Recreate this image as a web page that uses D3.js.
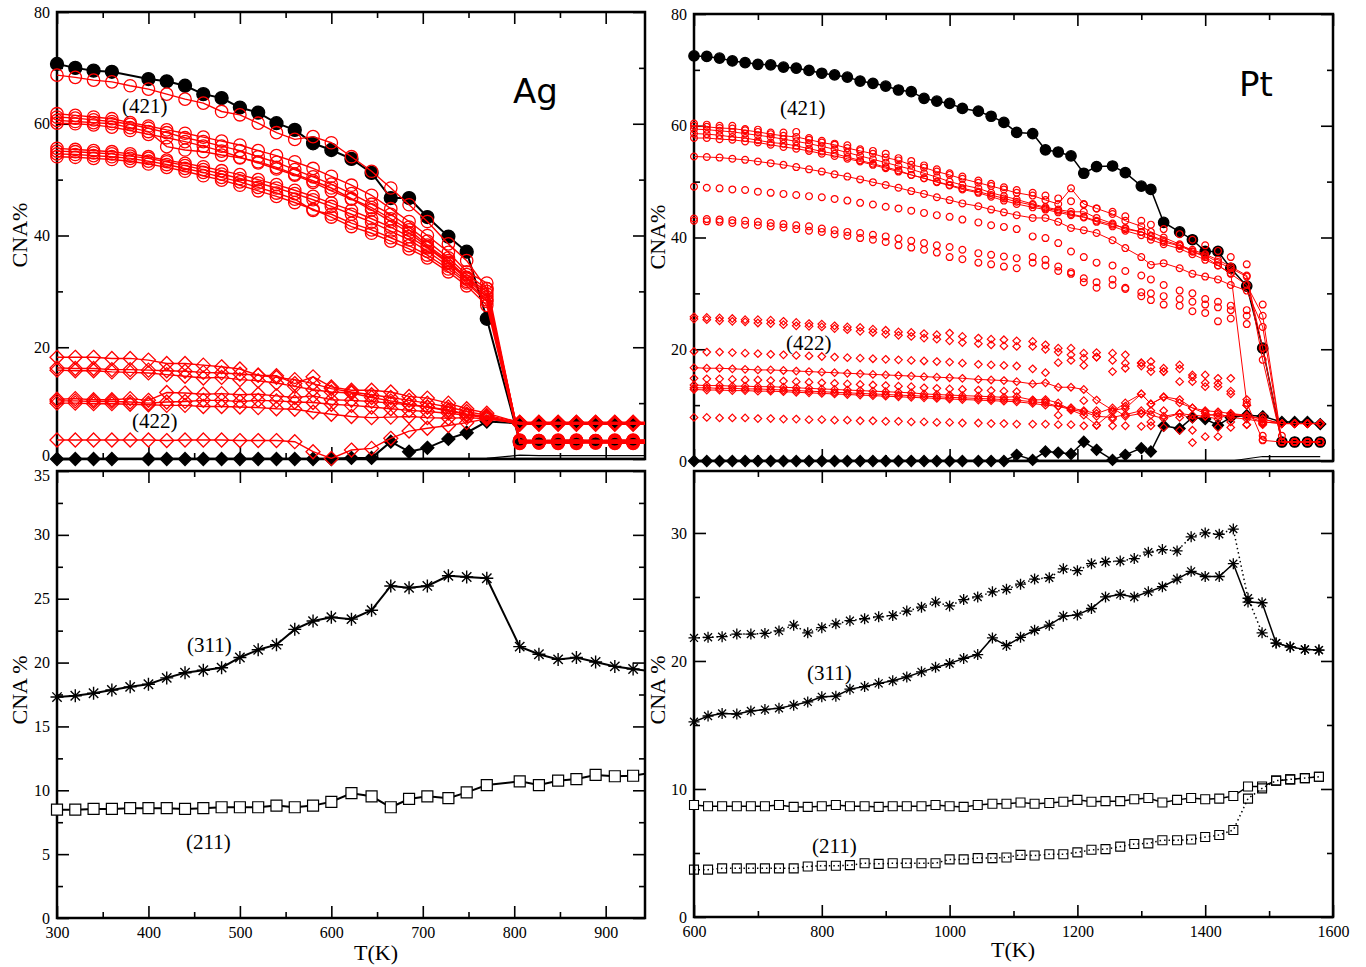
<!DOCTYPE html>
<html>
<head>
<meta charset="utf-8">
<script src="https://cdn.jsdelivr.net/npm/d3@7"></script>
<style>
  body { margin: 0; background: #fff; }
</style>
</head>
<body>
<div id="chart"></div>
<script>
// ---------------- Ag (left panels) ----------------
var T_AG = [300,320,340,360,380,400,420,440,460,480,500,520,540,560,580,600,622,644,665,685,705,728,748,770,806,827,848,868,889,910,930,952];

// (421) and (422), black = whole cluster
var AG_421_BLACK = [70.7,70.0,69.5,69.3,null,68.0,67.6,66.8,65.3,64.6,62.9,62.0,60.1,58.9,56.5,55.3,53.7,51.2,46.7,46.7,43.3,39.8,37.1,25.1,3.1,3.1,3.1,3.1,3.1,3.1,3.1,3.1];
var AG_422_BLACK = [0,0,0,0,null,0,0,0,0,0,0,0,0,0,0,0,0.2,0.2,3.1,1.3,2.0,3.6,4.7,6.7,6.4,6.4,6.4,6.4,6.4,6.4,6.4,6.4];

// (421) red = individual shells
var AG_421_R1 = [68.7,68.3,67.8,67.5,66.8,66.2,65.3,64.4,63.7,62.2,61.6,60.1,58.4,57.2,57.7,56.6,54.1,51.5,48.5,45.5,42.5,38.5,35.5,30.5,3.3,3.3,3.2,3.3,3.3,3.2,3.3,3.3];
var AG_421_B1 = [61.8,61.5,61.2,60.9,60.2,59.6,58.9,58.3,57.6,56.9,56.2,55.2,54.3,53.2,52.0,50.6,49.0,47.2,44.8,42.5,40.0,37.0,33.5,31.5,3.0,3.1,3.0,3.0,3.1,3.0,3.0,3.0];
var AG_421_B2 = [61.2,61.0,60.7,60.4,59.9,59.2,58.4,57.5,56.8,56.0,55.2,54.1,53.1,51.8,50.5,49.2,47.5,45.6,43.8,41.5,39.0,36.0,33.0,30.5,3.2,3.2,3.2,3.1,3.2,3.2,3.2,3.2];
var AG_421_B3 = [60.6,60.4,60.2,60.0,59.3,58.6,55.9,55.3,55.0,54.4,53.9,53.2,52.2,51.0,49.8,48.5,46.6,45.0,43.0,41.0,38.3,35.5,32.5,30.0,3.4,3.3,3.4,3.4,3.3,3.4,3.4,3.4];
var AG_421_B4 = [60.1,60.0,59.8,59.4,58.8,58.1,57.5,56.8,56.0,55.1,54.0,53.0,51.9,50.8,49.5,48.0,46.5,44.6,42.5,40.5,38.0,35.2,32.4,29.5,2.9,2.9,2.9,3.0,2.9,2.9,2.9,2.9];
var AG_421_C1 = [55.6,55.4,55.2,55.0,54.6,54.1,53.5,52.9,52.3,51.6,50.9,50.0,49.1,48.1,47.0,45.8,44.5,43.0,41.5,39.8,37.8,35.0,32.2,29.0,3.1,3.1,3.1,3.1,3.1,3.1,3.1,3.1];
var AG_421_C2 = [55.1,55.0,54.8,54.6,54.2,53.8,53.2,52.5,51.8,51.0,50.2,49.4,48.5,47.5,46.4,45.2,43.8,42.4,40.8,39.2,37.2,34.5,31.8,28.5,3.3,3.2,3.3,3.3,3.2,3.3,3.3,3.3];
var AG_421_C3 = [54.6,54.5,54.3,54.1,53.8,53.3,52.7,52.0,51.3,50.4,49.6,48.6,47.6,46.5,44.5,43.8,42.2,41.0,39.6,38.2,36.5,34.0,31.5,28.2,2.8,2.9,2.8,2.8,2.9,2.8,2.8,2.8];
var AG_421_C4 = [54.1,54.0,53.8,53.6,53.3,52.8,52.2,51.5,50.7,49.9,49.0,48.0,47.0,45.9,44.7,43.3,41.6,40.4,39.0,37.6,36.0,33.5,31.0,27.5,3.0,3.0,3.0,3.0,3.0,3.0,3.0,3.0];

// (422) red
var AG_422_D1 = [18.2,18.2,18.2,18.0,18.0,17.7,17.1,17.1,16.8,16.5,16.1,15.0,14.9,13.5,14.7,12.9,12.3,12.3,12.0,11.2,10.9,10.0,9.0,8.2,6.5,6.5,6.5,6.5,6.5,6.5,6.5,6.5];
var AG_422_D2 = [16.3,16.2,16.2,16.0,16.0,15.9,15.8,15.7,15.5,15.4,15.2,15.0,14.6,14.2,13.5,12.6,12.0,11.5,11.0,10.5,10.0,9.3,8.5,7.8,6.6,6.6,6.6,6.6,6.6,6.6,6.6,6.6];
var AG_422_D3 = [15.9,15.8,15.8,15.6,15.5,15.4,15.1,14.8,14.5,14.6,14.2,14.0,13.6,13.0,12.4,12.0,11.8,11.0,10.4,9.8,9.3,8.8,8.0,7.5,6.3,6.3,6.3,6.3,6.3,6.3,6.3,6.3];
var AG_422_D4 = [10.7,10.8,10.6,10.6,10.8,10.5,11.9,11.8,11.6,11.7,11.5,11.6,11.3,11.0,11.3,10.6,10.5,10.3,10.0,9.7,9.3,8.6,8.0,7.6,6.4,6.4,6.4,6.4,6.4,6.4,6.4,6.4];
var AG_422_D5 = [10.4,10.4,10.3,10.3,10.2,10.0,10.2,10.3,10.5,10.5,10.3,10.5,10.4,10.2,10.1,9.8,9.6,9.3,9.0,8.7,8.5,8.2,7.8,7.4,6.2,6.2,6.2,6.2,6.2,6.2,6.2,6.2];
var AG_422_D6 = [10.0,10.0,9.9,9.9,9.8,9.7,9.6,9.6,9.4,9.4,9.3,9.2,9.0,8.9,8.4,8.0,7.6,7.4,7.5,7.6,7.4,7.3,7.4,7.2,6.5,6.5,6.5,6.5,6.5,6.5,6.5,6.5];
var AG_422_D7 = [3.4,3.4,3.4,3.4,3.4,3.4,3.3,3.4,3.4,3.4,3.3,3.3,3.3,3.1,1.3,0.1,1.6,1.9,3.7,5.0,5.5,6.0,6.5,7.2,6.4,6.4,6.4,6.4,6.4,6.4,6.4,6.4];

// other black curves near zero
var AG_ZERO = [0,0,0,0,0,0,0,0,0,0,0,0,0,0,0,0,0,0,0,0,0,0,0,0,0,0,0,0,0,0,0,0];
var T_AG_TAIL = [728,748,770,806,827,848,868,889,910,930,952];
var AG_TAIL = [0,0,0.1,0.7,0.6,0.6,0.6,0.6,0.6,0.6,0.6];

// (311) and (211)
var AG_311 = [17.3,17.4,17.6,17.85,18.1,18.3,18.8,19.2,19.4,19.6,20.4,21.0,21.4,22.6,23.25,23.55,23.4,24.1,26.0,25.85,26.0,26.8,26.7,26.6,21.25,20.65,20.25,20.4,20.05,19.7,19.5,19.3];
var AG_211 = [8.48,8.48,8.54,8.54,8.6,8.6,8.6,8.54,8.6,8.67,8.67,8.67,8.8,8.67,8.8,9.1,9.77,9.53,8.67,9.32,9.53,9.38,9.84,10.41,10.7,10.41,10.75,10.88,11.2,11.1,11.14,11.4];

// ---------------- Pt (right panels) ----------------
var T_PT = [600,620,640,660,680,700,720,740,760,780,800,820,840,860,880,900,920,940,960,980,1000,1020,1045,1065,1085,1105,1130,1150,1170,1190,1210,1230,1255,1275,1300,1315,1335,1360,1380,1400,1420,1440,1465,1490,1520,1540,1560,1580];

var PT_421_BLACK = [72.5,72.4,72.1,71.6,71.3,71.0,70.9,70.5,70.3,69.9,69.4,69.1,68.7,68.0,67.6,67.1,66.4,66.1,64.9,64.4,64.0,63.1,62.6,61.7,60.6,58.8,58.6,55.7,55.3,54.6,51.5,52.7,52.8,51.6,49.2,48.6,42.7,41.0,39.6,37.5,37.5,34.5,31.3,20.2,3.4,3.4,3.4,3.4];
var PT_422_BLACK = [0,0,0,0,0,0,0,0,0,0,0,0,0,0,0,0,0,0,0,0,0,0,0,0,0,1.1,0.2,1.7,1.5,1.25,3.45,2.0,0.2,1.1,2.3,1.7,6.3,5.8,7.8,7.5,6.4,7.8,8.2,8.0,7.0,7.0,7.0,6.6];

// (421) red, with lines
var PT_421_C1 = [60.0,59.8,59.6,59.5,59.2,58.9,58.5,58.2,58.0,57.5,57.0,56.6,56.0,55.5,55.0,54.3,53.8,53.0,52.5,51.8,51.2,50.5,49.8,49.2,48.6,48.0,47.5,46.7,46.0,48.8,46.0,45.2,44.2,43.0,42.0,41.0,40.0,38.8,37.5,36.5,35.0,33.5,31.5,26.0,3.4,3.4,3.4,3.4];
var PT_421_C2 = [59.4,59.3,59.1,58.9,58.6,58.3,58.0,57.6,57.2,56.8,56.3,55.8,55.2,54.6,54.0,53.4,52.8,52.2,51.5,50.8,50.0,49.4,48.8,48.0,47.4,46.8,46.0,45.4,45.0,44.6,44.6,43.5,42.5,41.5,41.0,40.2,39.2,38.5,37.5,36.8,35.6,34.5,33.0,20.2,3.4,3.4,3.4,3.4];
var PT_421_C3 = [58.6,58.5,58.3,58.0,57.8,57.4,57.0,56.8,56.4,55.9,55.4,55.0,54.4,53.8,53.2,52.6,52.0,51.2,50.6,49.9,49.3,48.6,48.0,47.3,46.6,46.0,45.4,45.0,44.5,44.0,43.6,42.8,42.0,41.2,40.4,39.6,38.8,38.0,37.0,36.0,35.0,33.6,10.4,3.7,3.4,3.4,3.4,3.4];
var PT_421_C4 = [57.8,57.8,57.6,57.5,57.2,57.0,56.6,56.2,55.9,55.5,55.0,54.6,54.1,53.6,53.0,52.4,51.8,51.2,50.6,50.0,49.4,48.8,48.2,47.6,47.0,46.4,45.8,45.2,44.8,44.2,43.7,43.0,42.3,41.7,41.0,40.3,39.5,38.6,37.8,37.0,36.0,34.8,33.2,18.1,3.4,3.4,3.4,3.4];
var PT_421_C5 = [54.5,54.4,54.3,54.1,53.9,53.6,53.3,53.0,52.6,52.2,51.8,51.3,50.9,50.4,49.9,49.4,48.9,48.3,47.8,47.2,46.7,46.1,45.6,45.0,44.5,44.0,43.5,43.5,42.8,41.7,41.3,40.8,39.5,38.1,36.5,35.1,35.4,34.5,33.5,33.0,32.5,31.5,30.5,24.0,3.4,3.4,3.4,3.4];
// (421) red, symbols only
var PT_421_U1 = [60.4,60.2,60.0,60.0,59.4,59.3,58.8,58.8,58.9,57.8,57.3,56.8,56.5,55.8,55.5,55.0,54.2,53.7,52.9,52.2,51.5,50.9,50.2,49.6,49.0,48.5,48.0,47.5,47.0,46.5,45.9,45.2,44.6,43.8,43.0,42.3,41.5,40.6,39.6,38.6,37.6,36.5,35.2,28.0,4.5,3.4,3.4,3.4];
var PT_421_U2 = [49.1,48.9,48.8,48.6,48.5,48.2,48.0,47.8,47.6,47.4,47.2,46.9,46.6,46.2,45.9,45.5,45.2,44.8,44.4,44.0,43.7,43.2,42.7,42.2,41.9,41.5,40.2,39.9,39.0,37.5,36.5,35.5,35.0,34.0,33.2,32.5,31.5,30.5,30.0,29.0,28.5,27.8,27.0,8.0,3.4,3.4,3.4,3.4];
var PT_421_U3 = [43.4,43.3,43.2,43.1,43.0,42.8,42.6,42.4,42.2,42.0,41.6,41.3,41.0,40.8,40.5,40.2,39.8,39.4,39.0,38.6,38.3,37.8,37.2,36.9,36.6,36.3,36.5,35.0,34.0,33.5,32.7,32.0,31.5,30.8,30.2,30.0,29.5,29.0,28.5,28.0,27.5,27.0,26.0,4.5,3.4,3.4,3.4,3.4];
var PT_421_U4 = [43.0,42.9,42.8,42.6,42.3,42.2,42.0,41.8,41.5,41.2,41.0,40.6,40.3,39.9,39.6,39.2,38.6,38.2,37.8,37.3,36.5,36.1,35.5,35.2,34.8,34.5,35.5,36.0,34.8,33.8,32.0,31.0,32.5,31.0,29.5,28.8,28.0,27.8,26.8,26.5,25.0,25.5,24.5,3.8,3.4,3.4,3.4,3.4];

// (422) red
var PT_422_U1 = [25.8,25.7,25.6,25.5,25.3,25.3,25.2,25.0,24.8,24.6,24.5,24.2,24.0,23.9,23.6,23.4,23.1,23.0,22.8,22.6,22.9,22.3,22.0,21.8,21.7,21.5,21.4,20.8,20.2,20.2,18.4,19.4,19.3,19.0,17.5,17.8,16.6,17.2,14.2,15.4,13.9,14.8,11.0,7.5,6.7,6.7,6.7,6.7];
var PT_422_U2 = [25.4,25.3,25.1,25.0,24.9,24.7,24.6,24.4,24.2,24.1,24.0,23.7,23.5,23.2,23.0,22.7,22.5,22.3,22.0,21.8,21.5,21.2,21.0,20.8,20.6,20.5,20.5,20.0,19.5,19.0,19.3,18.6,18.0,17.5,17.0,16.8,16.0,16.5,15.0,14.0,13.3,12.0,10.0,7.0,6.7,6.7,6.7,6.7];
var PT_422_U3 = [19.6,19.5,19.5,19.4,19.3,19.2,19.1,19.0,18.9,18.8,18.7,18.6,18.5,18.4,18.3,18.2,18.1,18.0,17.9,17.8,17.7,17.5,17.3,17.2,17.1,17.0,16.5,15.8,17.6,18.0,17.1,18.6,16.0,16.6,17.6,16.0,16.0,14.2,15.4,13.3,14.8,12.5,10.0,6.7,6.7,6.7,6.7,6.7];
var PT_422_U4 = [14.8,14.7,14.7,14.6,14.5,14.5,14.4,14.3,14.2,14.1,14.0,13.9,13.8,13.7,13.6,13.5,13.4,13.3,13.1,13.0,12.9,12.8,12.7,12.6,12.5,12.4,10.9,10.7,8.2,9.5,10.8,9.0,7.5,9.8,8.5,7.0,9.0,7.8,5.5,8.8,6.0,7.0,6.5,6.5,6.7,6.7,6.7,6.7];
var PT_422_U5 = [7.8,7.8,7.7,7.7,7.7,7.6,7.6,7.5,7.5,7.4,7.4,7.3,7.3,7.2,7.2,7.1,7.1,7.0,7.0,6.9,6.9,6.8,6.8,6.7,6.7,6.6,6.6,6.6,6.5,6.5,6.3,6.4,6.3,6.3,6.2,6.3,6.0,5.5,3.3,4.35,4.35,6.0,6.5,6.7,6.7,6.7,6.7,6.7];
var PT_422_C1 = [16.7,16.6,16.6,16.5,16.4,16.3,16.3,16.2,16.1,16.0,15.9,15.8,15.7,15.6,15.5,15.4,15.3,15.2,15.1,15.0,14.9,14.8,14.6,14.5,14.4,14.2,13.8,14.0,13.2,13.2,12.8,10.9,9.1,9.4,12.0,10.2,11.4,10.4,9.5,9.0,8.8,8.5,8.2,7.5,6.7,6.7,6.7,6.7];
var PT_422_C2 = [13.6,13.5,13.5,13.4,13.4,13.3,13.3,13.2,13.1,13.0,12.9,12.8,12.7,12.6,12.5,12.4,12.3,12.2,12.0,11.9,11.8,11.7,11.6,11.5,11.4,11.5,10.9,11.0,10.4,9.1,8.2,6.4,8.8,10.4,12.0,10.2,11.5,11.0,9.5,8.5,8.0,8.2,8.0,7.5,6.7,6.7,6.7,6.7];
var PT_422_C3 = [13.1,13.1,13.0,13.0,12.9,12.9,12.8,12.7,12.6,12.5,12.4,12.3,12.2,12.1,12.0,11.9,11.8,11.7,11.6,11.5,11.4,11.3,11.2,11.1,11.0,10.9,10.6,10.4,9.8,9.5,9.0,8.5,9.5,8.0,8.5,9.0,8.0,8.5,8.2,8.0,7.5,8.5,8.0,7.0,6.7,6.7,6.7,6.7];
var PT_422_C4 = [12.8,12.7,12.7,12.6,12.6,12.5,12.5,12.4,12.3,12.2,12.1,12.0,11.9,11.8,11.7,11.6,11.5,11.4,11.3,11.2,11.1,11.0,10.9,10.8,10.7,10.6,10.3,10.0,9.8,9.2,8.8,8.0,7.8,8.3,9.0,8.2,7.6,8.5,7.5,8.0,8.5,7.8,7.5,7.0,6.7,6.7,6.7,6.7];

var PT_ZERO = [0,0,0,0,0,0,0,0,0,0,0,0,0,0,0,0,0,0,0,0,0,0,0,0,0,0,0,0,0,0,0,0,0,0,0,0,0,0,0,0,0,0,0,0,0,0,0,0];
var T_PT_TAIL = [1420,1440,1465,1490,1520,1540,1560,1580];
var PT_TAIL = [0,0,0.4,0.8,0.8,0.8,0.8,0.8];

// bottom right panel (solid = one run, dotted = other run)
var T_PT_B = [600,622,644,667,689,711,733,756,778,800,822,844,867,889,911,933,956,978,1000,1022,1044,1067,1089,1111,1133,1156,1178,1200,1222,1244,1267,1289,1311,1333,1356,1378,1400,1422,1444,1467,1489,1511,1533,1556,1578];
var PT_311_DOT = [21.8,21.85,21.9,22.1,22.1,22.15,22.35,22.8,22.2,22.6,22.9,23.15,23.3,23.45,23.55,23.9,24.2,24.6,24.3,24.8,25.0,25.4,25.6,26.0,26.4,26.5,27.2,27.05,27.6,27.75,27.8,28.0,28.5,28.7,28.6,29.7,30.0,29.9,30.3,24.9,22.2,21.4,21.1,20.9,20.85];
var PT_311_SOLID = [15.25,15.7,15.9,15.85,16.1,16.2,16.3,16.55,16.8,17.2,17.25,17.8,18.0,18.25,18.45,18.75,19.15,19.5,19.8,20.2,20.5,21.8,21.2,21.85,22.4,22.8,23.5,23.6,24.1,25.0,25.2,25.0,25.4,25.8,26.4,27.0,26.6,26.6,27.6,24.6,24.55,21.4,21.1,20.9,20.85];
var PT_211_SOLID = [8.75,8.65,8.65,8.65,8.65,8.65,8.75,8.6,8.6,8.65,8.75,8.65,8.65,8.6,8.65,8.65,8.65,8.75,8.65,8.6,8.75,8.85,8.85,8.95,8.85,8.9,9.0,9.15,9.0,9.05,9.05,9.2,9.3,8.95,9.15,9.3,9.2,9.25,9.45,10.2,10.2,10.65,10.75,10.85,10.95];
var PT_211_DOT = [3.7,3.7,3.8,3.8,3.8,3.8,3.8,3.8,3.95,4.0,4.0,4.05,4.2,4.15,4.2,4.2,4.2,4.2,4.5,4.5,4.6,4.6,4.65,4.85,4.8,4.9,4.9,5.05,5.25,5.3,5.5,5.7,5.75,6.0,6.0,6.05,6.25,6.4,6.8,9.25,10.05,10.65,10.75,10.85,10.95];

// tick values
var AG_XTICKS = [300,400,500,600,700,800,900];
var AG_XMINOR = [350,450,550,650,750,850];
var PT_XTICKS = [600,800,1000,1200,1400,1600];
var PT_XMINOR = [700,900,1100,1300,1500];
var TOP_YTICKS = [0,20,40,60,80];
var TOP_YMINOR = [10,30,50,70];
var AG_BOT_YTICKS = [0,5,10,15,20,25,30,35];
var AG_BOT_YMINOR = [2.5,7.5,12.5,17.5,22.5,27.5,32.5];
var PT_BOT_YTICKS = [0,10,20,30];
var PT_BOT_YMINOR = [5,15,25];

var RED = "#ff0000";
var SERIF = "Liberation Serif, Times New Roman, serif";

var svg = d3.select("#chart").append("svg")
    .attr("width", 1366)
    .attr("height", 967)
    .style("background", "#fff");

var clipId = 0;

// set up one framed panel with inward ticks on all four sides
function makePanel(box, xDomain, yDomain, xTicks, xMinor, yTicks, yMinor, xLabels) {
    var x = d3.scaleLinear().domain(xDomain).range([box.left, box.right]);
    var y = d3.scaleLinear().domain(yDomain).range([box.bottom, box.top]);
    var g = svg.append("g");

    clipId++;
    svg.append("clipPath").attr("id", "clip" + clipId)
        .append("rect")
        .attr("x", box.left).attr("y", box.top)
        .attr("width", box.right - box.left).attr("height", box.bottom - box.top);

    function tickAxis(axis, pos, vals, size, labels, pad) {
        var a = g.append("g")
            .attr("transform", pos)
            .call(axis.tickValues(vals).tickSize(-size).tickPadding(pad || 7)
                .tickFormat(labels ? d3.format("d") : ""));
        a.select(".domain").remove();
        a.selectAll("line").attr("stroke", "#000").attr("stroke-width", 1.6);
        a.selectAll("text")
            .attr("font-family", SERIF)
            .attr("font-size", 16)
            .attr("fill", "#000");
        return a;
    }

    var H = box.bottom - box.top, W = box.right - box.left;
    tickAxis(d3.axisBottom(x), "translate(0," + box.bottom + ")", xTicks, 12, xLabels, 9);
    tickAxis(d3.axisBottom(x), "translate(0," + box.bottom + ")", xMinor, 6, false);
    tickAxis(d3.axisTop(x), "translate(0," + box.top + ")", xTicks, 12, false);
    tickAxis(d3.axisTop(x), "translate(0," + box.top + ")", xMinor, 6, false);
    var yAx = tickAxis(d3.axisLeft(y), "translate(" + box.left + ",0)", yTicks, 12, true, 7);
    tickAxis(d3.axisLeft(y), "translate(" + box.left + ",0)", yMinor, 6, false);
    tickAxis(d3.axisRight(y), "translate(" + box.right + ",0)", yTicks, 12, false);
    tickAxis(d3.axisRight(y), "translate(" + box.right + ",0)", yMinor, 6, false);

    // frame
    g.append("rect")
        .attr("x", box.left).attr("y", box.top)
        .attr("width", W).attr("height", H)
        .attr("fill", "none")
        .attr("stroke", "#000")
        .attr("stroke-width", 2.5);

    return { g: g, x: x, y: y, yAx: yAx, clip: "url(#clip" + clipId + ")" };
}

function markerPath(type, s) {
    if (type == "diamond") return "M0," + (-s) + "L" + s + ",0L0," + s + "L" + (-s) + ",0Z";
    if (type == "square") return "M" + (-s) + "," + (-s) + "H" + s + "V" + s + "H" + (-s) + "Z";
    if (type == "star") {
        var d = s * 0.72;
        return "M" + (-s) + ",0H" + s + "M0," + (-s) + "V" + s +
            "M" + (-d) + "," + (-d) + "L" + d + "," + d + "M" + (-d) + "," + d + "L" + d + "," + (-d);
    }
    return "M" + s + ",0A" + s + "," + s + " 0 1,1 " + (-s) + ",0A" + s + "," + s + " 0 1,1 " + s + ",0Z";
}

// draw one series: optional line + optional markers
function drawSeries(p, ts, vs, o) {
    var pts = ts.map(function(t, i) { return { t: t, v: vs[i] }; })
        .filter(function(d) { return d.v != null; });
    var s = p.g.append("g");
    if (o.lw) {
        s.append("path")
            .datum(pts)
            .attr("clip-path", p.clip)
            .attr("d", d3.line().x(d => p.x(d.t)).y(d => p.y(d.v)))
            .attr("fill", "none")
            .attr("stroke", o.color)
            .attr("stroke-width", o.lw)
            .attr("stroke-dasharray", o.dash || null);
    }
    if (o.marker) {
        s.selectAll("path.m")
            .data(pts.filter(d => d.t <= p.x.domain()[1]))
            .enter()
            .append("path")
            .attr("class", "m")
            .attr("transform", d => "translate(" + p.x(d.t) + "," + p.y(d.v) + ")")
            .attr("d", markerPath(o.marker, o.size))
            .attr("fill", o.fill || "none")
            .attr("stroke", o.color)
            .attr("stroke-width", o.sw || 1.3);
    }
}

function addText(txt, x, y, size, family, anchor, rotate) {
    var t = svg.append("text")
        .attr("font-family", family)
        .attr("font-size", size)
        .attr("fill", "#000")
        .attr("text-anchor", anchor || "start")
        .text(txt);
    if (rotate) t.attr("transform", "translate(" + x + "," + y + ") rotate(-90)");
    else t.attr("x", x).attr("y", y);
}

// ---------- top left: Ag (421)/(422) ----------
var pTL = makePanel({ left: 57, top: 12, right: 645, bottom: 459 }, [300, 943], [0, 80],
    AG_XTICKS, AG_XMINOR, TOP_YTICKS, TOP_YMINOR, false);

drawSeries(pTL, T_AG, AG_ZERO, { color: "#000", lw: 2.5 });
drawSeries(pTL, T_AG_TAIL, AG_TAIL, { color: "#000", lw: 1.2 });
drawSeries(pTL, T_AG, AG_421_BLACK, { color: "#000", lw: 2, marker: "circle", size: 6.5, fill: "#000" });
drawSeries(pTL, T_AG, AG_422_BLACK, { color: "#000", lw: 2, marker: "diamond", size: 6.5, fill: "#000" });
[AG_421_R1, AG_421_B1, AG_421_B2, AG_421_B3, AG_421_B4, AG_421_C1, AG_421_C2, AG_421_C3, AG_421_C4].forEach(function(v) {
    drawSeries(pTL, T_AG, v, { color: RED, lw: 1.4, marker: "circle", size: 6.2, sw: 1.3 });
});
[AG_422_D1, AG_422_D2, AG_422_D3, AG_422_D4, AG_422_D5, AG_422_D6, AG_422_D7].forEach(function(v) {
    drawSeries(pTL, T_AG, v, { color: RED, lw: 1.4, marker: "diamond", size: 7, sw: 1.3 });
});

// ---------- bottom left: Ag (311)/(211) ----------
var pBL = makePanel({ left: 57, top: 471, right: 645, bottom: 918 }, [300, 943], [0, 35],
    AG_XTICKS, AG_XMINOR, AG_BOT_YTICKS, AG_BOT_YMINOR, true);

drawSeries(pBL, T_AG, AG_311, { color: "#000", lw: 2, marker: "star", size: 6.5, sw: 1.4 });
drawSeries(pBL, T_AG, AG_211, { color: "#000", lw: 2, marker: "square", size: 5.5, fill: "#fff", sw: 1.2 });

// the "0" of the top panel and the "35" of the bottom panel sit next to each other
pTL.yAx.selectAll(".tick text").filter(d => d === 0).attr("dy", "0.12em");
pBL.yAx.selectAll(".tick text").filter(d => d === 35).attr("dy", "0.6em");

// ---------- top right: Pt (421)/(422) ----------
var pTR = makePanel({ left: 694, top: 14, right: 1333, bottom: 461 }, [600, 1600], [0, 80],
    PT_XTICKS, PT_XMINOR, TOP_YTICKS, TOP_YMINOR, false);

drawSeries(pTR, T_PT, PT_ZERO, { color: "#000", lw: 2.5 });
drawSeries(pTR, T_PT_TAIL, PT_TAIL, { color: "#000", lw: 1.2 });
drawSeries(pTR, T_PT, PT_421_BLACK, { color: "#000", lw: 1.5, marker: "circle", size: 5.2, fill: "#000" });
drawSeries(pTR, T_PT, PT_422_BLACK, { color: "#000", lw: 1.5, marker: "diamond", size: 5.5, fill: "#000" });
[PT_421_C1, PT_421_C2, PT_421_C3, PT_421_C4, PT_421_C5].forEach(function(v) {
    drawSeries(pTR, T_PT, v, { color: RED, lw: 1, marker: "circle", size: 3.4, sw: 1.2 });
});
[PT_421_U1, PT_421_U2, PT_421_U3, PT_421_U4].forEach(function(v) {
    drawSeries(pTR, T_PT, v, { color: RED, marker: "circle", size: 3.4, sw: 1.2 });
});
[PT_422_C1, PT_422_C2, PT_422_C3, PT_422_C4].forEach(function(v) {
    drawSeries(pTR, T_PT, v, { color: RED, lw: 1, marker: "diamond", size: 3.8, sw: 1.2 });
});
[PT_422_U1, PT_422_U2, PT_422_U3, PT_422_U4, PT_422_U5].forEach(function(v) {
    drawSeries(pTR, T_PT, v, { color: RED, marker: "diamond", size: 3.8, sw: 1.2 });
});

// ---------- bottom right: Pt (311)/(211) ----------
var pBR = makePanel({ left: 694, top: 471, right: 1333, bottom: 917 }, [600, 1600], [0, 34.84],
    PT_XTICKS, PT_XMINOR, PT_BOT_YTICKS, PT_BOT_YMINOR, true);

drawSeries(pBR, T_PT_B, PT_311_DOT, { color: "#000", lw: 1.5, dash: "1.5,3", marker: "star", size: 5.5, sw: 1.3 });
drawSeries(pBR, T_PT_B, PT_311_SOLID, { color: "#000", lw: 1.5, marker: "star", size: 5.5, sw: 1.3 });
drawSeries(pBR, T_PT_B, PT_211_SOLID, { color: "#000", lw: 1.5, marker: "square", size: 4.5, fill: "#fff", sw: 1.1 });
drawSeries(pBR, T_PT_B, PT_211_DOT, { color: "#000", lw: 1.5, dash: "1.5,3", marker: "square", size: 4.5, sw: 1.1 });

// ---------- labels ----------
addText("(421)", 122, 113, 21, SERIF);
addText("(422)", 132, 428, 21, SERIF);
addText("(311)", 187, 652, 21, SERIF);
addText("(211)", 186, 849, 21, SERIF);
addText("(421)", 780, 115, 21, SERIF);
addText("(422)", 786, 350, 21, SERIF);
addText("(311)", 807, 680, 21, SERIF);
addText("(211)", 812, 853, 21, SERIF);

addText("Ag", 513, 103, 34, "DejaVu Sans");
addText("Pt", 1239, 96, 34, "DejaVu Sans");

addText("CNA%", 27, 235, 22, SERIF, "middle", true);
addText("CNA %", 27, 690, 22, SERIF, "middle", true);
addText("CNA%", 665, 237, 22, SERIF, "middle", true);
addText("CNA %", 665, 690, 22, SERIF, "middle", true);

addText("T(K)", 376, 960, 22, SERIF, "middle");
addText("T(K)", 1013, 957, 22, SERIF, "middle");
</script>
</body>
</html>
